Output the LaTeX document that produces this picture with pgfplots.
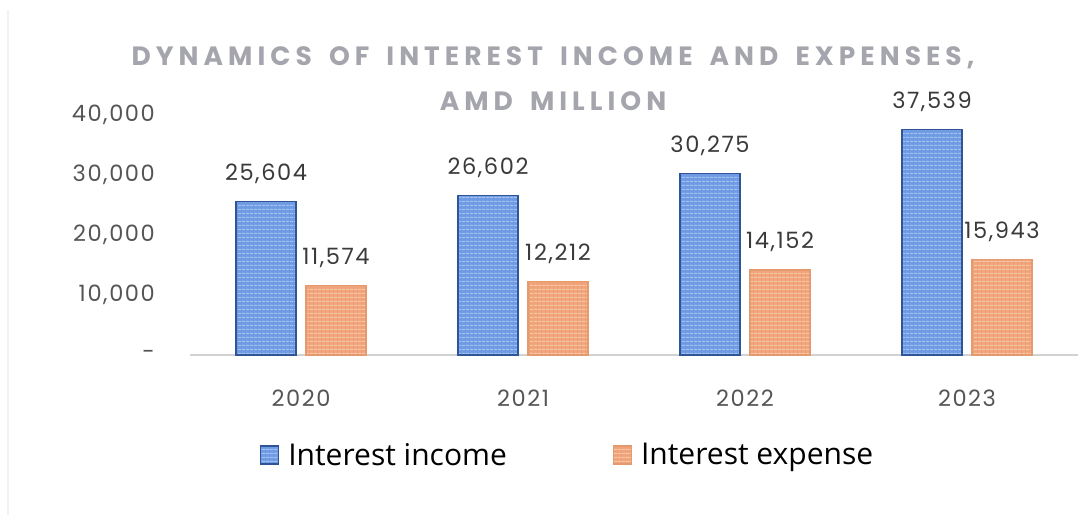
\documentclass[border=0pt]{standalone}
\usepackage{pgfplots}
\pgfplotsset{compat=1.18}
\usepackage{fontspec}
\usetikzlibrary{patterns.meta}
\setmainfont{Poppins}
\newfontfamily\numfont[LetterSpace=7]{Poppins}
\newfontfamily\legfont{Open Sans}
\newfontfamily\titlefont[LetterSpace=19,WordSpace=1.6]{Poppins}

\definecolor{incfill}{HTML}{6E9BE3}
\definecolor{incstripe}{HTML}{A3C2F2}
\definecolor{incedge}{HTML}{2F5597}
\definecolor{expfill}{HTML}{F0A378}
\definecolor{expstripe}{HTML}{F8C8AA}
\definecolor{expedge}{HTML}{E59A6E}
\definecolor{titlegray}{HTML}{A5A5AD}
\definecolor{ticktext}{HTML}{555555}
\definecolor{valtext}{HTML}{3A3A3A}

\begin{document}
\begin{tikzpicture}
\path[use as bounding box] (-190pt,-166pt) rectangle (900pt,355pt);
\draw[gray!10, line width=1.5pt] (-182pt,-160pt) -- (-182pt,345pt);

\node[titlegray, font=\titlefont\bfseries\fontsize{26.5}{30}\selectfont] at (363pt,297pt) {DYNAMICS OF INTEREST INCOME AND EXPENSES,};
\node[titlegray, font=\titlefont\bfseries\fontsize{26.5}{30}\selectfont] at (363pt,254pt) {AMD MILLION};

\begin{axis}[
  at={(0pt,0pt)}, anchor=south west,
  scale only axis, width=888pt, height=240pt,
  ybar=10pt, bar width=60pt,
  xmin=-0.5, xmax=3.5, ymin=0, ymax=40000,
  scaled y ticks=false,
  xtick=data, xticklabels={2020,2021,2022,2023},
  ytick={0,10000,20000,30000,40000},
  yticklabels={-\hspace{16pt},{10,000},{20,000},{30,000},{40,000}},
  major tick length=0pt,
  axis x line*=bottom, axis y line*=left,
  x axis line style={-, draw=gray!35, line width=1.3pt},
  y axis line style={draw=none},
  xticklabel style={anchor=center, yshift=-43pt, text=ticktext, font=\numfont\fontsize{22.5}{26}\selectfont},
  yticklabel style={anchor=east, inner sep=0pt, xshift=-35pt, text=ticktext, font=\numfont\fontsize{22.5}{26}\selectfont},
  clip=false,
  nodes near coords={\pgfmathprintnumber[1000 sep={,},assume math mode=true]{\pgfplotspointmeta}},
  every node near coord/.append style={anchor=center, yshift=28pt, text=valtext, font=\numfont\fontsize{22.5}{26}\selectfont},
  legend columns=2,
  legend style={at={(0.0788,-0.4167)}, anchor=west, draw=none, fill=none,
    font=\legfont\fontsize{30}{35}\selectfont, inner sep=0pt,
    /tikz/every even column/.append style={column sep=97pt}},
  legend image code/.code={\draw[#1] (0pt,-9pt) rectangle (18pt,9pt);},
  legend cell align=left,
  legend style={/tikz/every odd column/.append style={column sep=0pt}},
  legend style={nodes={inner xsep=9pt}},
]
\addplot[fill=incfill, draw=incedge, line width=1.2pt,
  postaction={pattern={Lines[angle=0,distance=4pt,line width=1.3pt]}, pattern color=incstripe}]
  coordinates {(0,25604) (1,26602) (2,30275) (3,37539)};
\addlegendentry{Interest income}
\addplot[fill=expfill, draw=expedge, line width=1.2pt,
  postaction={pattern={Lines[angle=0,distance=4pt,line width=1.3pt]}, pattern color=expstripe}]
  coordinates {(0,11574) (1,12212) (2,14152) (3,15943)};
\addlegendentry{Interest expense}
\end{axis}
\end{tikzpicture}
\end{document}
